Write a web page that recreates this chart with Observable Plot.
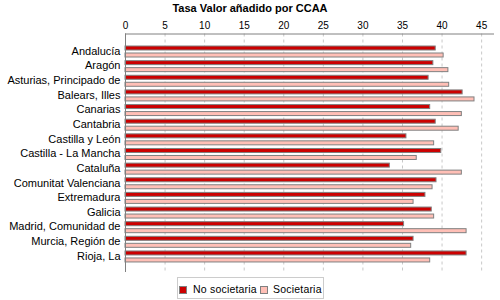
<!DOCTYPE html>
<html><head><meta charset="utf-8">
<script src="https://cdn.jsdelivr.net/npm/d3@7"></script>
<script src="https://cdn.jsdelivr.net/npm/@observablehq/plot@0.6"></script>
<style>
html,body{margin:0;padding:0;background:#fff;}
body{width:500px;height:300px;position:relative;overflow:hidden;font-family:"Liberation Sans",Arial,sans-serif;}
#chart{position:absolute;left:0;top:0;}
#title{position:absolute;left:0;top:0;width:500px;text-align:center;font-weight:bold;font-size:11px;line-height:16px;color:#000;}
#legend{position:absolute;left:177px;top:277px;width:147px;height:22px;border:1px solid #cccccc;box-sizing:border-box;}
.sw{position:absolute;width:8px;height:8px;box-sizing:border-box;border:1px solid #808080;}
.lt{position:absolute;font-size:10.5px;line-height:12px;letter-spacing:0.2px;color:#000;white-space:nowrap;}
</style></head><body>
<div id="chart"></div>
<div id="title">Tasa Valor añadido por CCAA</div>
<div id="legend"></div>
<script>
const regions = ["Andalucía","Aragón","Asturias, Principado de","Balears, Illes","Canarias","Cantabria","Castilla y León","Castilla - La Mancha","Cataluña","Comunitat Valenciana","Extremadura","Galicia","Madrid, Comunidad de","Murcia, Región de","Rioja, La"];
const noSocietaria = [39.2,38.9,38.3,42.6,38.5,39.2,35.5,39.9,33.4,39.3,37.9,38.7,35.2,36.4,43.1];
const societaria   = [40.2,40.8,40.9,44.1,42.5,42.1,39.0,36.8,42.5,38.8,36.4,39.0,43.1,36.1,38.5];
const seriesNames = ["No societaria","Societaria"];
const seriesColors = ["#cc0000","#ffbfb6"];
const xTicks = [0,5,10,15,20,25,30,35,40,45];

const red = regions.map((r,i)=>({region:r, series:seriesNames[0], value:noSocietaria[i]}));
const pink = regions.map((r,i)=>({region:r, series:seriesNames[1], value:societaria[i]}));

const chart = Plot.plot({
  width:500, height:276,
  marginTop:33.5, marginBottom:4, marginLeft:125, marginRight:7,
  style:{fontFamily:'"Liberation Sans",Arial,sans-serif', fontSize:"10px", color:"#000", background:"transparent"},
  x:{domain:[0,46.5]},
  y:{domain:regions, range:[44.4,264], padding:0, round:false},
  marks:[
    Plot.gridX(xTicks,{stroke:"#c8c8c8", strokeOpacity:1, strokeDasharray:"3,3"}),
    Plot.axisX(xTicks,{anchor:"top", tickSize:0, tickPadding:5, fontSize:10, label:null}),
    Plot.axisY({anchor:"left", tickSize:0, tickPadding:5, fontSize:11, dy:-1, label:null, style:{letterSpacing:"0.3px"}}),
    Plot.barX(red,{x:"value", y:"region", fill:seriesColors[0], stroke:"#808080", strokeWidth:1, insetTop:1.6, insetBottom:9.04}),
    Plot.barX(pink,{x:"value", y:"region", fill:seriesColors[1], stroke:"#808080", strokeWidth:1, insetTop:8.6, insetBottom:2.04}),
    Plot.ruleX([0],{stroke:"#808080"}),
    Plot.frame({anchor:"top", stroke:"#808080"})
  ]
});
document.getElementById("chart").appendChild(chart);

const lg = document.getElementById("legend");
const swX = [1,82], txX = [15,95];
seriesNames.forEach((n,i)=>{
  const s = document.createElement("div");
  s.className="sw"; s.style.left=swX[i]+"px"; s.style.top="8px"; s.style.background=seriesColors[i];
  lg.appendChild(s);
  const t = document.createElement("div");
  t.className="lt"; t.style.left=txX[i]+"px"; t.style.top="5px"; t.textContent=n;
  lg.appendChild(t);
});
</script>
</body></html>
